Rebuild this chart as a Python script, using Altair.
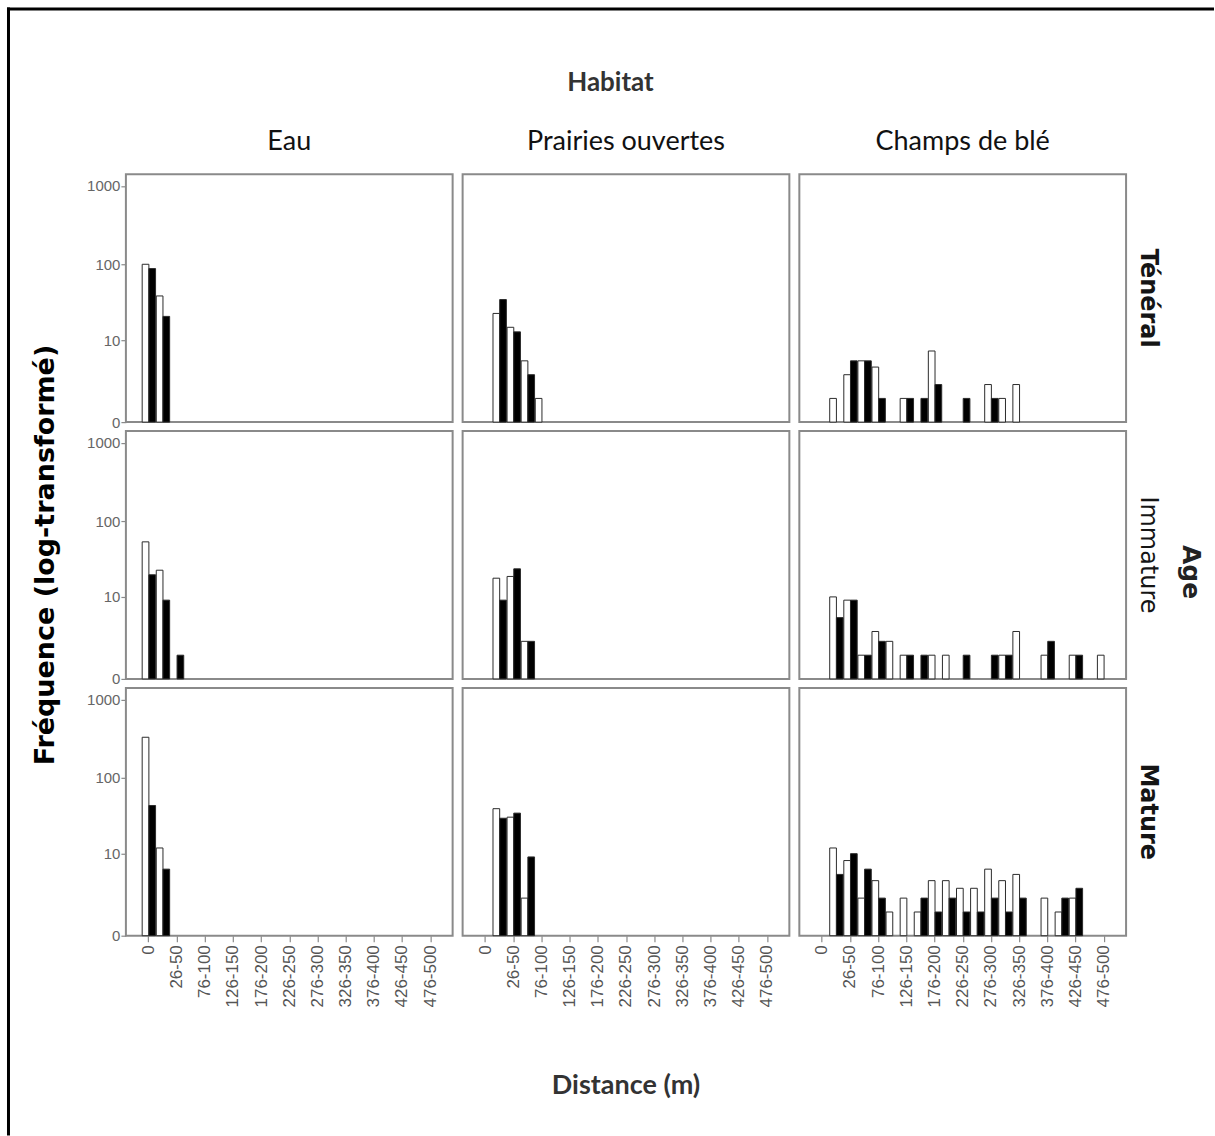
import altair as alt
import pandas as pd

# Distance classes (m); every other class carries a tick label
distances = ["0", "1-25", "26-50", "51-75", "76-100", "101-125", "126-150",
             "151-175", "176-200", "201-225", "226-250", "251-275", "276-300",
             "301-325", "326-350", "351-375", "376-400", "401-425", "426-450",
             "451-475", "476-500"]
tick_labels = distances[::2]

habitats = ["Eau", "Prairies ouvertes", "Champs de blé"]
ages = ["Ténéral", "Immature", "Mature"]
groups = ["Groupe 1", "Groupe 2"]          # open bars, filled bars
y_ticks = [0, 10, 100, 1000]

# Counts per distance class, one list per habitat / age / group
eau_ten_1 = [100, 39, 0, 0, 0, 0, 0, 0, 0, 0, 0, 0, 0, 0, 0, 0, 0, 0, 0, 0, 0]
eau_ten_2 = [88, 21, 0, 0, 0, 0, 0, 0, 0, 0, 0, 0, 0, 0, 0, 0, 0, 0, 0, 0, 0]
eau_imm_1 = [54, 23, 0, 0, 0, 0, 0, 0, 0, 0, 0, 0, 0, 0, 0, 0, 0, 0, 0, 0, 0]
eau_imm_2 = [20, 9, 1, 0, 0, 0, 0, 0, 0, 0, 0, 0, 0, 0, 0, 0, 0, 0, 0, 0, 0]
eau_mat_1 = [330, 12, 0, 0, 0, 0, 0, 0, 0, 0, 0, 0, 0, 0, 0, 0, 0, 0, 0, 0, 0]
eau_mat_2 = [44, 6, 0, 0, 0, 0, 0, 0, 0, 0, 0, 0, 0, 0, 0, 0, 0, 0, 0, 0, 0]

pra_ten_1 = [0, 23, 15, 5, 1, 0, 0, 0, 0, 0, 0, 0, 0, 0, 0, 0, 0, 0, 0, 0, 0]
pra_ten_2 = [0, 35, 13, 3, 0, 0, 0, 0, 0, 0, 0, 0, 0, 0, 0, 0, 0, 0, 0, 0, 0]
pra_imm_1 = [0, 18, 19, 2, 0, 0, 0, 0, 0, 0, 0, 0, 0, 0, 0, 0, 0, 0, 0, 0, 0]
pra_imm_2 = [0, 9, 24, 2, 0, 0, 0, 0, 0, 0, 0, 0, 0, 0, 0, 0, 0, 0, 0, 0, 0]
pra_mat_1 = [0, 40, 31, 2, 0, 0, 0, 0, 0, 0, 0, 0, 0, 0, 0, 0, 0, 0, 0, 0, 0]
pra_mat_2 = [0, 30, 35, 9, 0, 0, 0, 0, 0, 0, 0, 0, 0, 0, 0, 0, 0, 0, 0, 0, 0]

cha_ten_1 = [0, 1, 3, 5, 4, 0, 1, 0, 7, 0, 0, 0, 2, 1, 2, 0, 0, 0, 0, 0, 0]
cha_ten_2 = [0, 0, 5, 5, 1, 0, 1, 1, 2, 0, 1, 0, 1, 0, 0, 0, 0, 0, 0, 0, 0]
cha_imm_1 = [0, 10, 9, 1, 3, 2, 1, 0, 1, 1, 0, 0, 0, 1, 3, 0, 1, 0, 1, 0, 1]
cha_imm_2 = [0, 5, 9, 1, 2, 0, 1, 1, 0, 0, 1, 0, 1, 1, 0, 0, 2, 0, 1, 0, 0]
cha_mat_1 = [0, 12, 8, 2, 4, 1, 2, 1, 4, 4, 3, 3, 6, 4, 5, 0, 2, 1, 2, 0, 0]
cha_mat_2 = [0, 5, 10, 6, 2, 0, 0, 2, 1, 2, 1, 1, 2, 1, 2, 0, 0, 2, 3, 0, 0]

panels = [
    ("Eau", "Ténéral", eau_ten_1, eau_ten_2),
    ("Eau", "Immature", eau_imm_1, eau_imm_2),
    ("Eau", "Mature", eau_mat_1, eau_mat_2),
    ("Prairies ouvertes", "Ténéral", pra_ten_1, pra_ten_2),
    ("Prairies ouvertes", "Immature", pra_imm_1, pra_imm_2),
    ("Prairies ouvertes", "Mature", pra_mat_1, pra_mat_2),
    ("Champs de blé", "Ténéral", cha_ten_1, cha_ten_2),
    ("Champs de blé", "Immature", cha_imm_1, cha_imm_2),
    ("Champs de blé", "Mature", cha_mat_1, cha_mat_2),
]

rows = []
for habitat, age, counts_1, counts_2 in panels:
    for group, counts in zip(groups, (counts_1, counts_2)):
        for dist, n in zip(distances, counts):
            if n > 0:
                rows.append({"habitat": habitat, "age": age, "groupe": group,
                             "distance": dist, "n": n})
df = pd.DataFrame(rows)

W, H = 327, 248


def one_cell(habitat, age):
    """A single-row dataset living in one facet cell, for annotations."""
    return alt.Chart().transform_filter(
        (alt.datum.habitat == habitat) & (alt.datum.age == age)
    ).transform_aggregate(k="count()", groupby=["habitat", "age"])


bars = alt.Chart().mark_bar(stroke="#2b2b2b", strokeWidth=1).encode(
    x=alt.X("distance:N", sort=distances, title=None,
            scale=alt.Scale(domain=distances, paddingInner=0.05, paddingOuter=0,
                            range=[16.3, 311.7]),
            axis=alt.Axis(values=tick_labels, labelAngle=270, labelFont="Liberation Sans",
                          labelFontSize=17, labelColor="#555555", tickColor="#8a8a8a",
                          tickSize=6, tickWidth=1.2, domain=False, grid=False,
                          labelPadding=3)),
    xOffset=alt.XOffset("groupe:N", sort=groups, scale=alt.Scale(domain=groups)),
    y=alt.Y("n:Q", title=None,
            scale=alt.Scale(type="symlog", constant=1, domain=[0, 1400], nice=False),
            axis=alt.Axis(values=y_ticks, format="d", labelFont="Liberation Sans",
                          labelFontSize=15, labelColor="#666666", tickColor="#8a8a8a",
                          tickSize=5, tickWidth=1.2, domain=False, grid=False,
                          labelPadding=1)),
    fill=alt.Fill("groupe:N", scale=alt.Scale(domain=groups, range=["white", "black"]),
                  legend=None),
)

# Black edge along the top and left of the figure
frame_top = one_cell("Eau", "Ténéral").mark_rect(color="black").encode(
    x=alt.value(-119), x2=alt.value(1089), y=alt.value(-167), y2=alt.value(-164),
)
frame_left = one_cell("Eau", "Ténéral").mark_rect(color="black").encode(
    x=alt.value(-119), x2=alt.value(-116), y=alt.value(-167), y2=alt.value(962),
)

# Shared y title, centred on the middle row
y_title = one_cell("Eau", "Immature").mark_text(
    angle=270, font="DejaVu Sans", fontWeight="bold", fontSize=27,
    color="black", align="center", baseline="middle").encode(
    x=alt.value(-80), y=alt.value(H / 2),
    text=alt.value("Fréquence (log-transformé)"),
)

# Shared x title, centred under the middle column
x_title = one_cell("Prairies ouvertes", "Mature").mark_text(
    font="Lato", fontWeight="bold", fontSize=27, color="#333333",
    align="center", baseline="middle").encode(
    x=alt.value(W / 2), y=alt.value(398),
    text=alt.value("Distance (m)"),
)

chart = alt.layer(bars, frame_top, frame_left, y_title, x_title, data=df).properties(
    width=W, height=H
).facet(
    column=alt.Column("habitat:N", sort=habitats,
                      header=alt.Header(title="Habitat", titleFont="Lato",
                                        titleFontSize=26, titleFontWeight="bold",
                                        titleColor="#333333", titlePadding=22,
                                        labelFont="Lato", labelFontSize=27,
                                        labelColor="#111111", labelPadding=18)),
    row=alt.Row("age:N", sort=ages,
                header=alt.Header(title="Age", titleOrient="right", titleAngle=90,
                                  titleFont="DejaVu Sans", titleFontWeight="bold",
                                  titleFontSize=25, titleColor="#222222",
                                  titlePadding=8,
                                  labelOrient="right", labelAngle=90,
                                  labelFont="DejaVu Sans",
                                  labelFontWeight=alt.ExprRef(
                                      expr="parent['age'] === 'Immature' ? 'normal' : 'bold'"),
                                  labelFontSize=24, labelColor="#151515",
                                  labelPadding=10)),
    spacing={"row": 9, "column": 10},
    bounds="flush",
).properties(
    padding={"left": 6, "top": 6, "right": 0, "bottom": 0},
    background="white",
).configure_view(
    stroke="#8a8a8a", strokeWidth=2, fill="white"
)

chart.save("out.html", embed_options={"renderer": "svg", "actions": False})
